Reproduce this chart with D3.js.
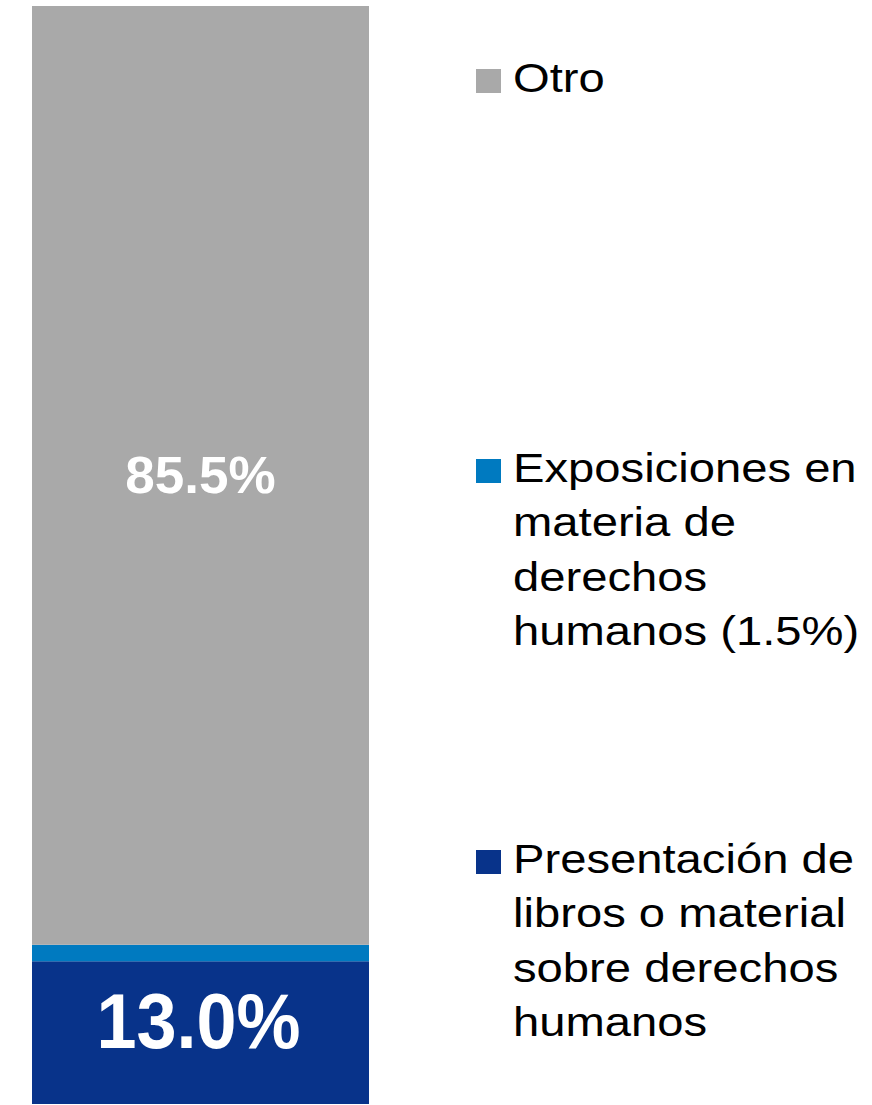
<!DOCTYPE html>
<html>
<head>
<meta charset="utf-8">
<script src="https://cdn.jsdelivr.net/npm/d3@7"></script>
<style>
  body { margin: 0; background: #fff; }
  text { font-family: "Liberation Sans", Arial, sans-serif; }
</style>
</head>
<body>
<script>
// stacked single bar, bottom to top
const categories = ['Presentación', 'Exposiciones', 'Otro'];
const values = [13.0, 1.5, 85.5];
const barLabels = ['13.0%', '', '85.5%'];
const legendLines = [
  ['Presentación de', 'libros o material', 'sobre derechos', 'humanos'],
  ['Exposiciones en', 'materia de', 'derechos', 'humanos (1.5%)'],
  ['Otro'],
];
const colors = ['#08338a', '#007ac0', '#a9a9a9'];

const width = 872;
const height = 1105;

const svg = d3.select('body')
  .append('svg')
  .attr('width', width)
  .attr('height', height);

const x = d3.scaleBand()
  .domain(['total'])
  .range([32, 369])
  .padding(0);

const y = d3.scaleLinear()
  .domain([0, 100])
  .range([1104, 6]);

const color = d3.scaleOrdinal()
  .domain(categories)
  .range(colors);

let acc = 0;
const stacked = categories.map((c, i) => {
  const d = { key: c, y0: acc, y1: acc + values[i], label: barLabels[i] };
  acc += values[i];
  return d;
});

svg.selectAll('.seg')
  .data(stacked)
  .enter().append('rect')
  .attr('class', 'seg')
  .attr('x', x('total'))
  .attr('width', x.bandwidth())
  .attr('y', (d) => y(d.y1))
  .attr('height', (d) => y(d.y0) - y(d.y1))
  .style('fill', (d) => color(d.key));

// value labels inside the bar (big one is a bit condensed in the original)
const cx = x('total') + x.bandwidth() / 2;
svg.selectAll('.val')
  .data(stacked.filter((d) => d.label))
  .enter().append('g')
  .attr('class', 'val')
  .attr('transform', (d) => {
    const big = d.key !== 'Otro';
    const ty = y((d.y0 + d.y1) / 2) + (big ? 15 : 18);
    return `translate(${cx - (big ? 2 : 0)},${ty}) scale(${big ? 0.935 : 1.04},1)`;
  })
  .append('text')
  .attr('text-anchor', 'middle')
  .style('fill', '#fff')
  .style('font-weight', 'bold')
  .style('font-size', (d) => (d.key === 'Otro' ? '51px' : '77px'))
  .text((d) => d.label);

// legend, one entry per segment
const legendY = { Otro: 92, Exposiciones: 482, 'Presentación': 873 };
const lineStep = 54.5;

const legend = svg.selectAll('.legend')
  .data(categories)
  .enter().append('g')
  .attr('class', 'legend')
  .attr('transform', (d) => `translate(0,${legendY[d]})`);

legend.append('rect')
  .attr('x', 476)
  .attr('y', -23)
  .attr('width', 25)
  .attr('height', 24)
  .style('fill', color);

legend.append('g')
  .attr('transform', 'translate(513,0) scale(1.18,1)')
  .append('text')
  .style('font-size', '40px')
  .style('fill', '#000')
  .selectAll('tspan')
  .data((d, i) => legendLines[i])
  .enter().append('tspan')
  .attr('x', 0)
  .attr('y', (d, i) => i * lineStep)
  .text((d) => d);
</script>
</body>
</html>
